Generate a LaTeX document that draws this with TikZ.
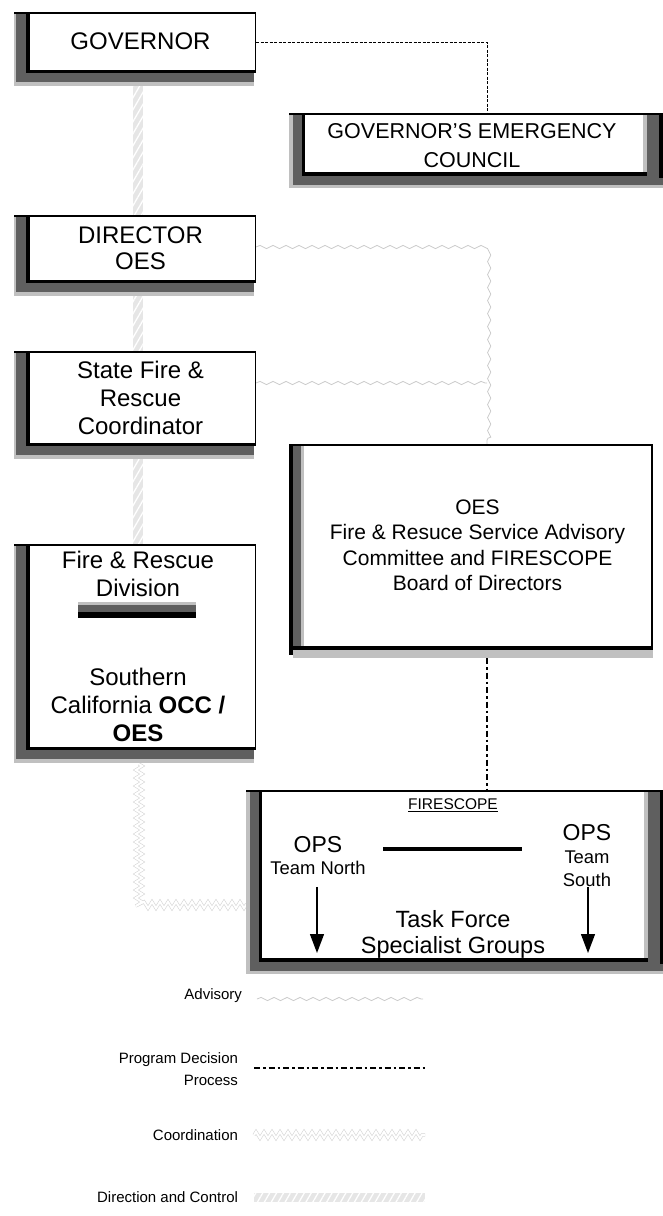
\documentclass[tikz,border=0pt]{standalone}
\usepackage{fontspec}
\setmainfont{Liberation Sans}
\usetikzlibrary{calc,decorations.pathmorphing,arrows.meta,patterns.meta}
\pgfdeclarelayer{bg}
\pgfdeclarelayer{mid}
\pgfsetlayers{bg,mid,main}
\definecolor{dgc}{HTML}{5F5F5F}
\definecolor{lgc}{HTML}{C0C0C0}
\definecolor{bandc}{HTML}{E6E6E6}
\definecolor{advc}{HTML}{CACACA}
\definecolor{coc}{HTML}{D4D4D4}
\newcommand\lframe[1]{%
 \fill[lgc] ($(#1.north west)+(-12,0)$) rectangle ($(#1.south east)+(-1,16)$);
 \fill[dgc] ($(#1.north west)+(-10,0)$) rectangle ($(#1.south east)+(-1,12)$);
 \fill[black] (#1.north west) rectangle ($(#1.south east)+(1,3)$);
 \fill[white] ($(#1.north west)+(4,1)$) rectangle (#1.south east);
 \draw[line width=1.3pt] ($(#1.north west)+(-12,0)$) -- ($(#1.north east)+(1,0)$);}
\newcommand\dframe[1]{%
 \fill[lgc] ($(#1.north west)+(-16,0)$) rectangle ($(#1.south east)+(20,16)$);
 \fill[dgc] ($(#1.north west)+(-12,0)$) rectangle ($(#1.south east)+(20,13)$);
 \fill[black] ($(#1.north east)+(16,0)$) rectangle ($(#1.south east)+(20,6)$);
 \fill[black] ($(#1.north west)+(-3,0)$) rectangle ($(#1.south east)+(4,3.5)$);
 \fill[lgc] ($(#1.north east)+(0,1)$) rectangle ($(#1.south east)+(4,0)$);
 \fill[white] ($(#1.north west)+(0,1)$) rectangle (#1.south east);
 \draw[line width=1.3pt] ($(#1.north west)+(-16,0)$) -- ($(#1.north east)+(20,0)$);}
\newcommand\oframe[1]{%
 \fill[black] ($(#1.north west)+(-15,0)$) rectangle ($(#1.south west)+(-11,9)$);
 \fill[lgc] ($(#1.south west)+(-11,4)$) rectangle ($(#1.south east)+(1.5,12)$);
 \fill[dgc] ($(#1.north west)+(-11,0)$) rectangle ($(#1.south west)+(-3,4)$);
 \fill[lgc] ($(#1.north west)+(-3,0)$) rectangle (#1.south west);
 \fill[black] ($(#1.south west)+(-11,0)$) rectangle ($(#1.south east)+(1.5,4)$);
 \fill[white] ($(#1.north west)+(0,1)$) rectangle (#1.south east);
 \fill[black] (#1.north east) rectangle ($(#1.south east)+(1.5,4)$);
 \draw[line width=1.3pt] ($(#1.north west)+(-15,0)$) -- ($(#1.north east)+(1.5,0)$);}
\tikzset{
 box/.style={inner sep=0pt, outer sep=0pt, align=center, font=\fontsize{24}{28}\selectfont},
 txt/.style={inner sep=0pt, outer sep=0pt, align=center},
 lgtxt/.style={inner sep=0pt, outer sep=0pt, align=right, anchor=east, font=\fontsize{15}{22}\selectfont},
 adv/.style={draw=advc, line width=0.8pt, decorate, decoration={snake, amplitude=1.6pt, segment length=13pt}},
 coordst/.style={draw=coc, line width=0.6pt, double=white, double distance=2pt, decorate, decoration={zigzag, amplitude=3.2pt, segment length=8pt}},
 pdp/.style={draw=black, line width=1.8pt, dash pattern=on 6pt off 3pt on 2.5pt off 3pt},
 gdash/.style={draw=black, line width=0.9pt, dash pattern=on 3pt off 1.5pt},
 bandfill/.style={fill=bandc},
 bandhatch/.style={pattern={Lines[angle=60,distance=6pt,line width=1.3pt]}, pattern color=white},
 arr/.style={draw=black, line width=1.3pt, -{Triangle[length=19pt,width=14pt]}}
}
\begin{document}
\begin{tikzpicture}[x=1pt,y=-1pt]
\useasboundingbox (0,0) rectangle (663,1216);
% boxes
\node[box, minimum width=229pt, minimum height=57pt] (gov) at (140.5,41.5) {GOVERNOR};
\node[box, minimum width=338pt, minimum height=58pt] (cnc) at (474,143) {};
\node[txt, font=\fontsize{21.5}{29}\selectfont] (cnct) at (472,146) {GOVERNOR’S EMERGENCY\\COUNCIL};
\node[box, font=\fontsize{24}{26}\selectfont, minimum width=229pt, minimum height=64pt] (dir) at (140.5,248) {DIRECTOR\\OES};
\node[box, minimum width=229pt, minimum height=91pt] (sfr) at (140.5,397.5) {State Fire \&\\Rescue\\Coordinator};
\node[box, minimum width=229pt, minimum height=202pt] (frd) at (140.5,646) {};
\node[box, font=\fontsize{21}{25.5}\selectfont, minimum width=347pt, minimum height=201pt] (oes) at (477.5,545.5) {OES\\Fire \& Resuce Service Advisory\\Committee and FIRESCOPE\\Board of Directors};
\node[box, minimum width=382pt, minimum height=167pt] (fsc) at (453,874.5) {};
% texts inside Fire & Rescue Division
\node[txt, font=\fontsize{24}{28}\selectfont] (frd1) at (138,574) {Fire \& Rescue\\Division};
\node[txt, font=\fontsize{24}{28}\selectfont] (frd2) at (138,705) {Southern\\California \textbf{OCC /}\\\textbf{OES}};
\fill[lgc] (78,602) rectangle (196,605);
\fill[dgc] (78,605) rectangle (196,612);
\fill[black] (78,612) rectangle (196,618);
% texts inside FIRESCOPE
\node[txt, font=\fontsize{15.5}{18}\selectfont] (fst) at (453,805) {\underline{FIRESCOPE}};
\node[txt, font=\fontsize{23}{26}\selectfont] (opsN) at (318,845) {OPS};
\node[txt, font=\fontsize{18.4}{23}\selectfont] (tnorth) at (318,868) {Team North};
\node[txt, font=\fontsize{23}{26}\selectfont] (opsS) at (587,833) {OPS};
\node[txt, font=\fontsize{18.4}{23}\selectfont] (tsouth) at (587,868.5) {Team\\South};
\node[txt, font=\fontsize{23.5}{26}\selectfont] (tfsg) at (453,934) {Task Force\\Specialist Groups};
\draw[line width=3.5pt] (383,849) -- (522,849);
\draw[arr] ($(tnorth.south)+(-1,12)$) -- ($(tnorth.south |- fsc.south)+(-1,-5)$);
\draw[arr] ($(tsouth.south)+(1,1)$) -- ($(tsouth.south |- fsc.south)+(1,-5)$);
% frames
\begin{pgfonlayer}{mid}
\lframe{gov}
\lframe{dir}
\lframe{sfr}
\lframe{frd}
\dframe{cnc}
\dframe{fsc}
\oframe{oes}
\end{pgfonlayer}
% connectors
\coordinate (colR) at (487,0);
\begin{pgfonlayer}{bg}
\path[bandfill] ($(gov.south)+(-7.5,0)$) rectangle ($(frd.north)+(2.5,0)$);
\path[bandhatch] ($(gov.south)+(-7.5,0)$) rectangle ($(frd.north)+(2.5,0)$);
\draw[gdash] ($(gov.east)+(1,0.5)$) -- ($(colR |- gov.east)+(0,0.5)$) -- (colR |- cnc.north);
\draw[adv] ($(dir.east)+(1,-1)$) coordinate (d1) -- (d1 -| colR) -- (colR |- oes.north);
\draw[adv] ($(sfr.east)+(1,-14.5)$) coordinate (s1) -- (s1 -| colR);
\draw[pdp] ($(colR |- oes.south)+(0,12)$) -- (colR |- fsc.north);
\coordinate (cbend) at (139,905);
\coordinate (fscL) at ($(fsc.west)+(-15,0)$);
\draw[coordst] ($(frd.south)+(-1.5,17)$) -- (cbend) -- (cbend -| fscL);
\end{pgfonlayer}
% legend
\node[lgtxt] (lA) at (242,996) {Advisory};
\node[lgtxt] (lP) at (238,1069) {Program Decision\\Process};
\node[lgtxt] (lC) at (238,1135) {Coordination};
\node[lgtxt] (lD) at (238,1197) {Direction and Control};
\draw[adv] ($(lA.east)+(15,3)$) -- ++(166,0);
\draw[pdp] ($(lP.east)+(16,-1)$) -- ++(171,0);
\draw[coordst] ($(lC.east)+(16,0)$) -- ++(171,0);
\path[bandfill] ($(lD.east)+(16,-4.5)$) rectangle ++(171,9);
\path[bandhatch] ($(lD.east)+(16,-4.5)$) rectangle ++(171,9);
\end{tikzpicture}
\end{document}
